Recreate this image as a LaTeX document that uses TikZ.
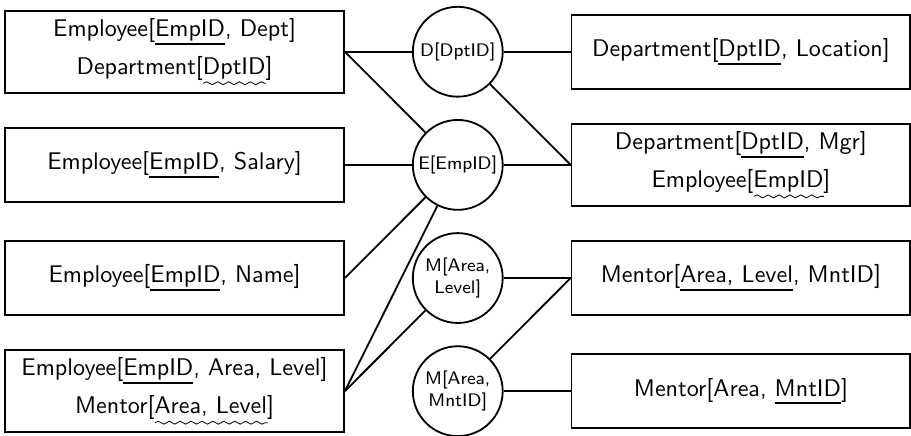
\documentclass[tikz,border=0pt]{standalone}
\usepackage{tikz}
\usetikzlibrary{positioning,shapes,decorations.pathmorphing}
\renewcommand{\familydefault}{\sfdefault}
\newlength{\keywd}
% key attribute: solid underline, foreign key: wavy underline
\newcommand{\pkey}[1]{\settowidth{\keywd}{#1}\leavevmode\rlap{\rule[-3.7pt]{\keywd}{0.9pt}}#1}
\newcommand{\fkey}[1]{\settowidth{\keywd}{#1}\leavevmode\rlap{\tikz[baseline=0pt]\draw[line width=0.35pt,decorate,decoration={snake,amplitude=0.65pt,segment length=4.8pt}] (0,-3.9pt) -- (\keywd,-3.9pt);}#1}
\tikzset{%
	relation/.style = {draw, thick, rectangle, minimum width=5.24cm, minimum height=1.14cm, align=center, font=\fontsize{10.6}{12.7}\selectfont},
	joiner/.style   = {draw, thick, circle, minimum size=1.39cm, inner sep=0pt, align=center, font=\footnotesize},
	link/.style     = {thick},
}

\begin{document}
\begin{tikzpicture}[node distance=1.75cm,auto]
		\useasboundingbox (0,0) rectangle (14.09,-6.74);
		% source relations
		\node [relation] (L1) at (2.70,-0.80) {Employee[\pkey{EmpID}, Dept]\\[4pt]Department[\fkey{DptID}]};
		\node [relation] (L2) [below of=L1] {Employee[\pkey{EmpID}, Salary]};
		\node [relation] (L3) [below of=L2] {Employee[\pkey{EmpID}, Name]};
		\node [relation] (L4) [below of=L3] {Employee[\pkey{EmpID}, Area, Level]\\[4pt]Mentor[\fkey{Area, Level}]};
		% joins
		\node [joiner] (D) [right of=L1,node distance=4.38cm] {D[DptID]};
		\node [joiner] (E) [right of=L2,node distance=4.38cm] {E[EmpID]};
		\node [joiner] (M1) [right of=L3,node distance=4.38cm] {M[Area,\\Level]};
		\node [joiner] (M2) [right of=L4,node distance=4.38cm] {M[Area,\\MntID]};
		% target relations
		\node [relation] (R1) [right of=D,node distance=4.38cm] {Department[\pkey{DptID}, Location]};
		\node [relation] (R2) [right of=E,node distance=4.38cm] {Department[\pkey{DptID}, Mgr]\\[4pt]Employee[\fkey{EmpID}]};
		\node [relation] (R3) [right of=M1,node distance=4.38cm] {Mentor[\pkey{Area, Level}, MntID]};
		\node [relation] (R4) [right of=M2,node distance=4.38cm] {Mentor[Area, \pkey{MntID}]};

		\draw[link] (L1.east) -- (D);
		\draw[link] (L1.east) -- (E);
		\draw[link] (L2.east) -- (E);
		\draw[link] (L3.east) -- (E);
		\draw[link] (L4.east) -- (E);
		\draw[link] (L4.east) -- (M1);
		\draw[link] (D) -- (R1.west);
		\draw[link] (D) -- (R2.west);
		\draw[link] (E) -- (R2.west);
		\draw[link] (M1) -- (R3.west);
		\draw[link] (M2) -- (R3.west);
		\draw[link] (M2) -- (R4.west);
\end{tikzpicture}
\end{document}
